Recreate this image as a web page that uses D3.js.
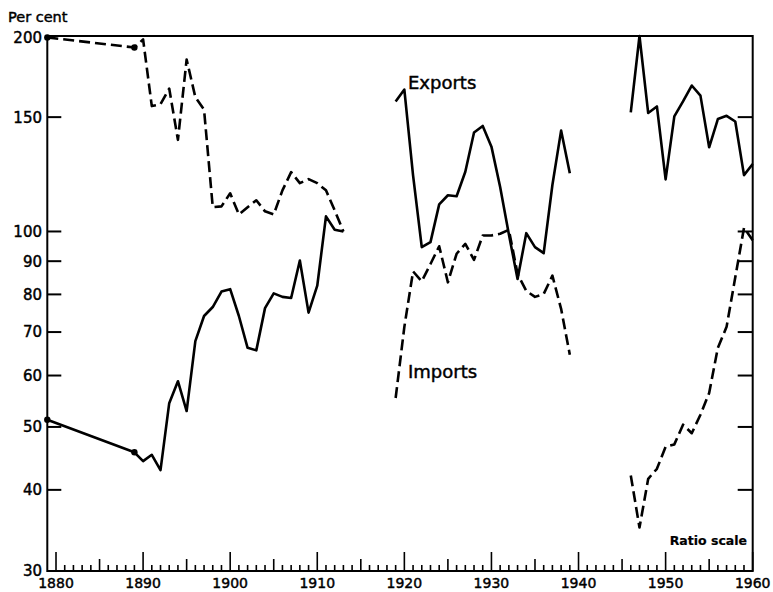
<!DOCTYPE html>
<html><head><meta charset="utf-8">
<script src="https://cdn.jsdelivr.net/npm/d3@7"></script>
<style>body{margin:0;background:#fff}svg{display:block}text{font-family:"DejaVu Sans",sans-serif;fill:#000;stroke:#000;stroke-width:0.45px}</style>
</head><body><svg id="c" width="773" height="592"></svg>
<script>
// ---- data ----
const yearsPre = [1879,1889,1890,1891,1892,1893,1894,1895,1896,1897,1898,1899,1900,1901,1902,1903,1904,1905,1906,1907,1908,1909,1910,1911,1912,1913];
const exportsPre = [51.3,45.7,44.3,45.3,42.9,54.4,58.8,52.9,67.8,74.1,76.5,80.8,81.5,74.1,66.2,65.6,76.2,80.3,79.3,79.0,90.2,75.0,82.5,105.5,100.6,100];
const importsPre = [199,192,197.6,156,157,166,138.4,184,161,154,109,109.3,114.5,106.2,109,111.7,107.4,106.2,115.7,123.4,118.7,120.4,118.7,115.7,107.8,100];
const yearsInter = [1919,1920,1921,1922,1923,1924,1925,1926,1927,1928,1929,1930,1931,1932,1933,1934,1935,1936,1937,1938,1939];
const exportsInter = [158.6,165.4,122,94.6,96.3,110.1,113.7,113.3,123.6,142,145.4,135.1,117.1,99,84.5,99.4,94.6,92.6,117.9,143,122.9];
const importsInter = [55.4,71.3,86.8,83.8,89.1,94.9,83.5,92.4,95.7,90.4,98.6,98.6,99.2,100.6,86,81,79.3,80.1,85.5,76,64.6];
const yearsPost = [1946,1947,1948,1949,1950,1951,1952,1953,1954,1955,1956,1957,1958,1959,1960];
const exportsPost = [152.5,200,152.2,155.8,120.3,150.4,158.6,167.8,161.9,134.8,149,150.7,147.7,122.1,127];
const importsPost = [42.1,35.0,41.6,43.1,46.6,47.0,50.4,48.9,52.2,56.4,66.2,71.3,85.0,101.3,96.9];
const markedYears = [1879,1889];
const yTickValues = [200,150,100,90,80,70,60,50,40,30];
const xLabelYears = [1880,1890,1900,1910,1920,1930,1940,1950,1960];

// ---- drawing ----
const svg = d3.select("#c");
const x = d3.scaleLinear().domain([1879,1960]).range([47.3,752.7]);
const y = d3.scaleLog().domain([30,200]).range([571,36]);
const x0 = x.range()[0], x1 = x.range()[1], yb = y(30), yt = y(200);

// frame
svg.append("path").attr("d",`M${x0},${yt}H${x1}V${yb}H${x0}Z`).attr("fill","none").attr("stroke","#000").attr("stroke-width",2);

// y ticks (inward both sides) and labels
const innerY = yTickValues.filter(v=>v!==200 && v!==30);
svg.selectAll(".ytl").data(innerY).join("line").attr("x1",x0).attr("x2",x0+14).attr("y1",d=>y(d)).attr("y2",d=>y(d)).attr("stroke","#000").attr("stroke-width",2);
svg.selectAll(".ytr").data(innerY).join("line").attr("x1",x1).attr("x2",x1-15).attr("y1",d=>y(d)).attr("y2",d=>y(d)).attr("stroke","#000").attr("stroke-width",2);
svg.selectAll(".ylab").data(yTickValues).join("text").attr("x",42).attr("y",d=>y(d) + (d===200?2:0)).attr("dy","0.36em").attr("text-anchor","end").attr("font-size",15).text(d=>d);

// x ticks (inward, upward)
const allYears = d3.range(1880,1961);
svg.selectAll(".xt").data(allYears).join("line")
  .attr("x1",d=>x(d)).attr("x2",d=>x(d)).attr("y1",yb)
  .attr("y2",d=> yb - (d%10===0?19:(d%5===0?12:6)))
  .attr("stroke","#000").attr("stroke-width",1.6);
svg.selectAll(".xlab").data(xLabelYears).join("text").attr("x",d=>x(d)).attr("y",588).attr("text-anchor","middle").attr("font-size",14).text(d=>d);

// lines
const line = d3.line().x(d=>x(d[0])).y(d=>y(d[1]));
function draw(years, vals, dashed){
  svg.append("path").datum(years.map((yr,i)=>[yr,vals[i]])).attr("d",line)
    .attr("fill","none").attr("stroke","#000").attr("stroke-width",2.6)
    .attr("stroke-linejoin","round")
    .attr("stroke-dasharray",dashed?"11,5":null);
}
draw(yearsPre, exportsPre, false);
draw(yearsPre, importsPre, true);
draw(yearsInter, exportsInter, false);
draw(yearsInter, importsInter, true);
draw(yearsPost, exportsPost, false);
draw(yearsPost, importsPost, true);

// dots at early observations
[exportsPre, importsPre].forEach(vals=>{
  markedYears.forEach(yr=>{
    const i = yearsPre.indexOf(yr);
    svg.append("circle").attr("cx",x(yr)).attr("cy",y(vals[i])).attr("r",3.2).attr("fill","#000");
  });
});

// texts
svg.append("text").attr("x",8).attr("y",22).attr("font-size",14.5).text("Per cent");
svg.append("text").attr("x",408).attr("y",89).attr("font-size",18).text("Exports");
svg.append("text").attr("x",408).attr("y",378).attr("font-size",18).text("Imports");
svg.append("text").attr("x",747).attr("y",545).attr("text-anchor","end").attr("font-size",12.5).attr("font-weight","bold").style("stroke-width","0.2px").text("Ratio scale");
</script></body></html>
